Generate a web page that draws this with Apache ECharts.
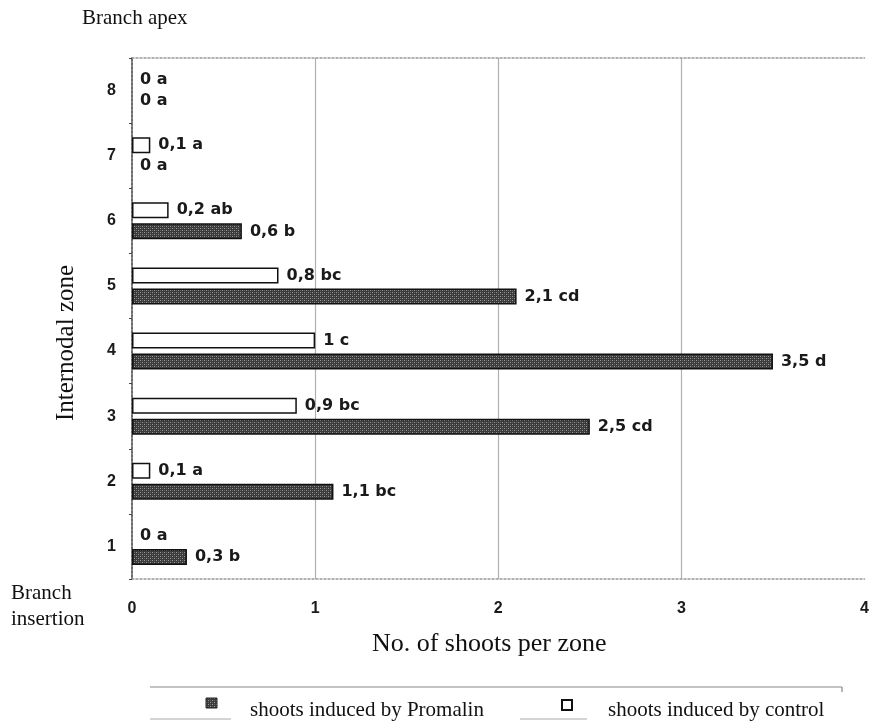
<!DOCTYPE html>
<html>
<head>
<meta charset="utf-8">
<script src="https://cdn.jsdelivr.net/npm/echarts@6/dist/echarts.min.js"></script>
<style>
html,body{margin:0;padding:0;background:#fff;}
#chart{width:872px;height:725px;}
</style>
</head>
<body>
<div id="chart"></div>
<script>
// ---- data ----
var zones = ['1', '2', '3', '4', '5', '6', '7', '8'];
var controlValues = [0, 0.1, 0.9, 1, 0.8, 0.2, 0.1, 0];
var controlLabels = ['0 a', '0,1 a', '0,9 bc', '1 c', '0,8 bc', '0,2 ab', '0,1 a', '0 a'];
var promalinValues = [0.3, 1.1, 2.5, 3.5, 2.1, 0.6, 0, 0];
var promalinLabels = ['0,3 b', '1,1 bc', '2,5 cd', '3,5 d', '2,1 cd', '0,6 b', '0 a', '0 a'];
var xTicks = [0, 1, 2, 3, 4];
var seriesNames = ['shoots induced by Promalin', 'shoots induced by control'];

// hatch pattern
function makePattern() {
  var c = document.createElement('canvas');
  c.width = 4; c.height = 4;
  var g = c.getContext('2d');
  g.fillStyle = '#3a3a3a';
  g.fillRect(0, 0, 4, 4);
  g.fillStyle = '#9a9a9a';
  g.fillRect(0, 0, 1, 1);
  g.fillRect(2, 2, 1, 1);
  g.fillStyle = '#666';
  g.fillRect(2, 0, 1, 1);
  g.fillRect(0, 2, 1, 1);
  return c;
}
var pattern = {image: makePattern(), repeat: 'repeat'};

// zero-length bars carry no visible outline
function toItems(values) {
  return values.map(function (v) {
    return v === 0 ? {value: v, itemStyle: {borderWidth: 0}} : v;
  });
}

var chart = echarts.init(document.getElementById('chart'), null, {renderer: 'canvas'});
var labelFont = {fontFamily: 'DejaVu Sans', fontWeight: 'bold', fontSize: 16, color: '#1a1a1a'};
var axisFont = {fontFamily: 'Liberation Sans', fontWeight: 'bold', fontSize: 16, color: '#1a1a1a'};
var dotted = {color: '#999', type: [2, 2], width: 1.5};

var option = {
  animation: false,
  backgroundColor: '#fff',
  grid: {left: 132, right: 4, top: 58, bottom: 146, containLabel: false},
  xAxis: [{
    type: 'value', min: xTicks[0], max: xTicks[xTicks.length - 1], interval: 1, position: 'bottom',
    axisLine: {show: true, lineStyle: dotted},
    axisTick: {show: false},
    axisLabel: Object.assign({margin: 22}, axisFont),
    splitLine: {show: true, showMinLine: false, showMaxLine: false, lineStyle: {color: '#b0b0b0', width: 1.2}},
    name: 'No. of shoots per zone', nameLocation: 'middle', nameGap: 52,
    nameTextStyle: {fontFamily: 'Liberation Serif', fontSize: 26, color: '#111', padding: [0, 18, 0, 0]}
  }, {
    type: 'value', min: 0, max: 4, position: 'top',
    axisLine: {show: true, lineStyle: dotted},
    axisTick: {show: false}, axisLabel: {show: false}, splitLine: {show: false}
  }],
  yAxis: [{
    type: 'category', data: zones, position: 'left',
    axisLine: {show: true, lineStyle: {color: '#111', width: 1.5}},
    axisTick: {show: true, length: 3, lineStyle: {color: '#444'}},
    axisLabel: Object.assign({margin: 16}, axisFont)
  }, {
    type: 'category', data: zones, position: 'right',
    axisLine: {show: true, lineStyle: dotted},
    axisTick: {show: false}, axisLabel: {show: false}
  }],
  series: [{
    name: seriesNames[1], type: 'bar', data: toItems(controlValues),
    barWidth: 16, barGap: '32%',
    itemStyle: {color: '#fff', borderColor: '#111', borderWidth: 1.5},
    label: Object.assign({show: true, position: 'right', distance: 8,
      formatter: function (p) { return controlLabels[p.dataIndex]; }}, labelFont)
  }, {
    name: seriesNames[0], type: 'bar', data: toItems(promalinValues),
    barWidth: 16, barGap: '32%',
    itemStyle: {color: pattern, borderColor: '#111', borderWidth: 1.5},
    label: Object.assign({show: true, position: 'right', distance: 8,
      formatter: function (p) { return promalinLabels[p.dataIndex]; }}, labelFont)
  }],
  graphic: [
    {type: 'text', left: 82, top: 8, style: {text: 'Branch apex', font: '21px "Liberation Serif"', fill: '#111'}},
    {type: 'text', left: 11, top: 580, style: {text: 'Branch\ninsertion', font: '21px "Liberation Serif"', fill: '#111', lineHeight: 26}},
    {type: 'text', x: 66, y: 343, rotation: Math.PI / 2,
      style: {text: 'Internodal zone', font: '25px "Liberation Serif"', fill: '#111', align: 'center', verticalAlign: 'middle'}},
    // legend frame
    {type: 'line', shape: {x1: 150, y1: 687, x2: 842, y2: 687}, style: {stroke: '#888', lineWidth: 1.2}},
    {type: 'line', shape: {x1: 842, y1: 687, x2: 842, y2: 692}, style: {stroke: '#888', lineWidth: 1.2}},
    {type: 'line', shape: {x1: 150, y1: 719, x2: 231, y2: 719}, style: {stroke: '#aaa', lineWidth: 1}},
    {type: 'line', shape: {x1: 520, y1: 719, x2: 587, y2: 719}, style: {stroke: '#aaa', lineWidth: 1}},
    {type: 'rect', shape: {x: 206, y: 698, width: 11, height: 10}, style: {fill: pattern, stroke: '#222', lineWidth: 1}},
    {type: 'text', left: 250, top: 700, style: {text: seriesNames[0], font: '21px "Liberation Serif"', fill: '#111'}},
    {type: 'rect', shape: {x: 562, y: 700, width: 10, height: 10}, style: {fill: '#fff', stroke: '#111', lineWidth: 2}},
    {type: 'text', left: 608, top: 700, style: {text: seriesNames[1], font: '21px "Liberation Serif"', fill: '#111'}}
  ]
};
chart.setOption(option);
</script>
</body>
</html>
